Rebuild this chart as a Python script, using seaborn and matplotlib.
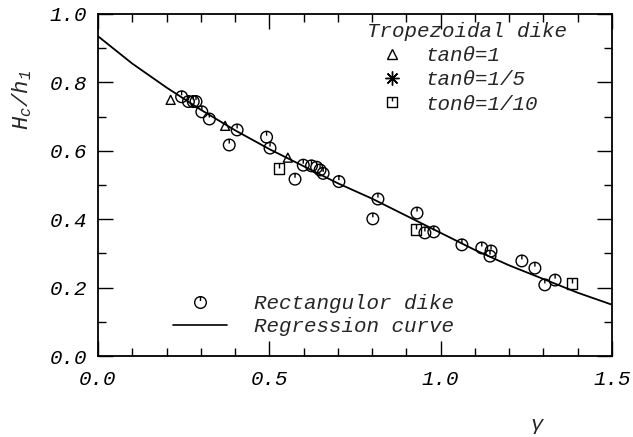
import numpy as np
import pandas as pd
import matplotlib
matplotlib.use("Agg")
import matplotlib.pyplot as plt
import seaborn as sns
from matplotlib.path import Path
from matplotlib.lines import Line2D
from matplotlib.ticker import MultipleLocator, FormatStrFormatter

# ---------------- data ----------------
rect_x = [0.244, 0.264, 0.278, 0.286, 0.303, 0.325, 0.383, 0.406, 0.492, 0.502,
          0.575, 0.599, 0.623, 0.638, 0.648, 0.657, 0.703, 0.817, 0.802, 0.931,
          0.954, 0.980, 1.062, 1.120, 1.147, 1.144, 1.237, 1.275, 1.304, 1.334]
rect_y = [0.758, 0.744, 0.744, 0.744, 0.714, 0.693, 0.617, 0.661, 0.640, 0.608,
          0.517, 0.558, 0.556, 0.552, 0.544, 0.534, 0.510, 0.459, 0.401, 0.418,
          0.360, 0.363, 0.325, 0.316, 0.307, 0.292, 0.278, 0.257, 0.208, 0.222]
tan1_x = [0.212, 0.371, 0.554]
tan1_y = [0.749, 0.673, 0.580]
tan5_x = [0.403, 0.703, 1.048]
tan5_y = [0.653, 0.491, 0.333]
tan10_x = [0.528, 0.928, 1.383]
tan10_y = [0.549, 0.370, 0.213]
curve_x = [0.0, 0.1, 0.2, 0.3, 0.4, 0.5, 0.6, 0.7, 0.8, 0.9, 1.0, 1.1, 1.2, 1.3, 1.4, 1.5]
curve_y = [0.935, 0.855, 0.785, 0.72, 0.66, 0.605, 0.555, 0.505, 0.46, 0.41,
           0.36, 0.31, 0.265, 0.225, 0.185, 0.15]

title_top = "Tropezoidal dike"
labels_top = ["tan\u03b8=1", "tan\u03b8=1/5", "ton\u03b8=1/10"]
labels_bottom = ["Rectangulor dike", "Regression curve"]

# ---------------- style ----------------
sns.set_style("ticks")
plt.rcParams["font.family"] = ["Liberation Mono", "DejaVu Sans Mono"]
plt.rcParams["font.style"] = "italic"
plt.rcParams["mathtext.fontset"] = "custom"
plt.rcParams["mathtext.it"] = "Liberation Mono:italic"
plt.rcParams["mathtext.rm"] = "Liberation Mono:italic"

FS = 15

# custom markers: circle / square with a short vertical stroke from the top
circle_tick = Path.make_compound_path(
    Path.unit_circle(),
    Path([[0, 1], [0, 0.25]], [Path.MOVETO, Path.LINETO]))
square_tick = Path([[-1, -1], [1, -1], [1, 1], [-1, 1], [-1, -1], [0, 1], [0, 0.1]],
                   [Path.MOVETO, Path.LINETO, Path.LINETO, Path.LINETO,
                    Path.CLOSEPOLY, Path.MOVETO, Path.LINETO])
star = (8, 2, 0)

fig = plt.figure(figsize=(6.33, 4.37), dpi=100)
ax = fig.add_axes([98 / 633, (437 - 356) / 437, (612 - 98) / 633, (356 - 14) / 437])

sns.lineplot(x=curve_x, y=curve_y, color="black", linewidth=1.3, ax=ax)
common = dict(facecolor="none", edgecolor="black", linewidth=1.0, ax=ax, zorder=3)
sns.scatterplot(x=rect_x, y=rect_y, marker=circle_tick, s=70, **common)
sns.scatterplot(x=tan1_x, y=tan1_y, marker="^", s=42, **common)
sns.scatterplot(x=tan5_x, y=tan5_y, marker=star, s=100, **common)
sns.scatterplot(x=tan10_x, y=tan10_y, marker=square_tick, s=60, **common)

ax.set_xlim(0, 1.5)
ax.set_ylim(0, 1.0)
ax.xaxis.set_major_locator(MultipleLocator(0.5))
ax.xaxis.set_minor_locator(MultipleLocator(0.1))
ax.yaxis.set_major_locator(MultipleLocator(0.2))
ax.yaxis.set_minor_locator(MultipleLocator(0.1))
ax.xaxis.set_major_formatter(FormatStrFormatter("%.1f"))
ax.yaxis.set_major_formatter(FormatStrFormatter("%.1f"))
ax.tick_params(which="both", direction="in", top=True, right=True, colors="black",
               labelsize=FS)
ax.tick_params(which="major", length=11, width=1.0)
ax.tick_params(which="minor", length=6, width=1.0)
ax.tick_params(axis="x", pad=10)
ax.tick_params(axis="y", pad=8)
for sp in ax.spines.values():
    sp.set_linewidth(1.3)
    sp.set_color("black")

ax.set_xlabel("")
ax.set_ylabel("")
fig.text(22 / 633, 1 - 100 / 437, "$H_c/h_1$", rotation=90, fontsize=FS + 1,
         ha="center", va="center")
fig.text(537 / 633, 1 - 425 / 437, "\u03b3", fontsize=FS, ha="center", va="center")

mk = dict(linestyle="none", markerfacecolor="none", markeredgecolor="black",
          markeredgewidth=1.0, color="black")
h_top = [Line2D([], [], marker="^", markersize=6.5, **mk),
         Line2D([], [], marker=star, markersize=10, **mk),
         Line2D([], [], marker=square_tick, markersize=7.7, **mk)]
leg1 = ax.legend(h_top, labels_top, title=title_top, loc="upper left",
                 bbox_to_anchor=((367 - 98) / 514, (356 - 22) / 342),
                 frameon=False, fontsize=FS, title_fontsize=FS,
                 alignment="left", borderpad=0, borderaxespad=0,
                 handlelength=2.4, handletextpad=0.4, labelspacing=0.25)
ax.add_artist(leg1)

h_bot = [Line2D([], [], marker=circle_tick, markersize=8.4, **mk),
         Line2D([], [], color="black", linewidth=1.2)]
ax.legend(h_bot, labels_bottom, loc="lower left",
          bbox_to_anchor=((173 - 98) / 514, (356 - 336) / 342),
          frameon=False, fontsize=FS, borderpad=0, borderaxespad=0,
          handlelength=2.6, handletextpad=1.3, labelspacing=0.2)

fig.savefig("out.png", dpi=100)
